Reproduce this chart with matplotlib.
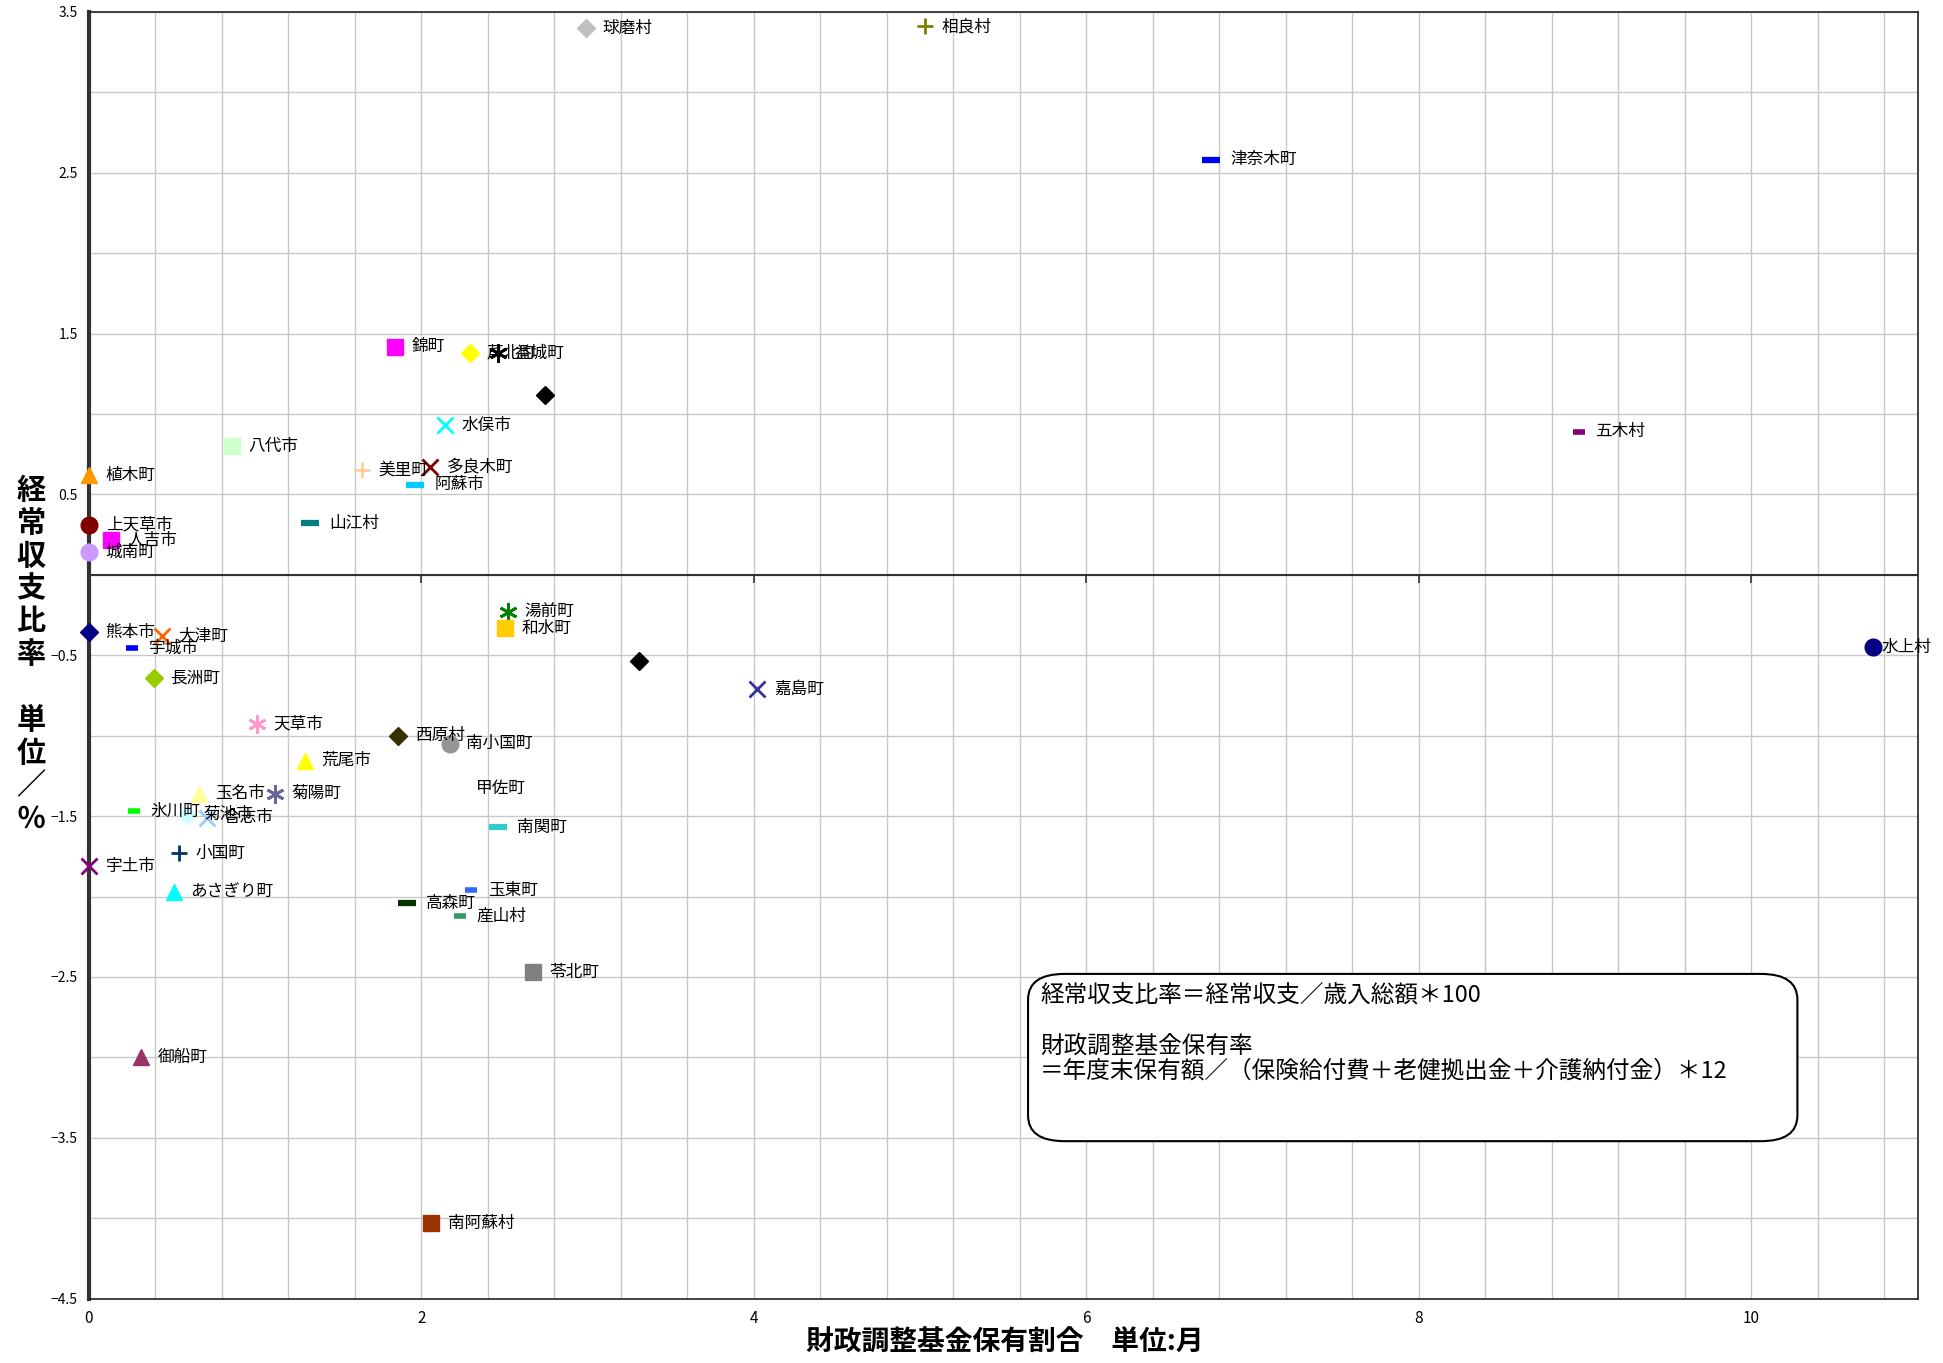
import matplotlib
matplotlib.use('Agg')
import matplotlib.pyplot as plt
from matplotlib.patches import FancyBboxPatch
import numpy as np

plt.rcParams['font.family'] = ['Noto Sans CJK JP', 'DejaVu Sans']

# municipality, fund ratio (months), balance ratio (%)
names = ['球磨村', '相良村', '津奈木町', '錦町', '芦北町', '益城町', '', '水俣市',
         '八代市', '植木町', '美里町', '多良木町', '阿蘇市', '五木村', '上天草市',
         '人吉市', '城南町', '山江村', '熊本市', '大津町', '宇城市', '長洲町',
         '湯前町', '和水町', '水上村', '', '嘉島町', '天草市', '西原村', '南小国町',
         '荒尾市', '玉名市', '菊陽町', '甲佐町', '氷川町', '菊池市', '合志市',
         '南関町', '小国町', '宇土市', 'あさぎり町', '玉東町', '高森町', '産山村',
         '苓北町', '御船町', '南阿蘇村']
fund = [2.99, 5.03, 6.75, 1.84, 2.29, 2.46, 2.74, 2.14,
        0.86, 0.00, 1.64, 2.05, 1.96, 8.96, 0.00,
        0.13, 0.00, 1.33, 0.00, 0.44, 0.26, 0.39,
        2.52, 2.50, 10.73, 3.31, 4.02, 1.01, 1.86, 2.17,
        1.30, 0.66, 1.12, 2.23, 0.27, 0.59, 0.71,
        2.46, 0.54, 0.00, 0.51, 2.30, 1.91, 2.23,
        2.67, 0.31, 2.06]
balance = [3.40, 3.41, 2.58, 1.42, 1.38, 1.38, 1.12, 0.93,
           0.80, 0.62, 0.65, 0.67, 0.56, 0.89, 0.31,
           0.22, 0.14, 0.32, -0.355, -0.38, -0.455, -0.64,
           -0.23, -0.33, -0.45, -0.535, -0.71, -0.925, -1.00, -1.05,
           -1.155, -1.36, -1.36, -1.33, -1.47, -1.49, -1.51,
           -1.57, -1.73, -1.81, -1.97, -1.96, -2.04, -2.12,
           -2.47, -3.00, -4.03]

# marker, colour per point
styles = [('D', '#C0C0C0'), ('+', '#808000'), ('dash', '#0000FF'), ('s', '#FF00FF'),
          ('D', '#FFFF00'), ('ast', '#000000'), ('D', '#000000'), ('x', '#00FFFF'),
          ('s', '#CCFFCC'), ('^', '#FF9900'), ('+', '#FFCC99'), ('x', '#800000'),
          ('dash', '#00CCFF'), ('sdash', '#800080'), ('o', '#800000'),
          ('s', '#FF00FF'), ('o', '#CC99FF'), ('dash', '#008080'), ('D', '#000080'),
          ('x', '#FF6600'), ('sdash', '#0000FF'), ('D', '#99CC00'),
          ('ast', '#008000'), ('s', '#FFCC00'), ('o', '#000080'), ('D', '#000000'),
          ('x', '#333399'), ('ast', '#FF99CC'), ('D', '#333300'), ('o', '#969696'),
          ('^', '#FFFF00'), ('^', '#FFFF99'), ('ast', '#666699'), ('o', '#FFFFFF'),
          ('sdash', '#00FF00'), ('D', '#CCFFFF'), ('x', '#99CCFF'),
          ('dash', '#33CCCC'), ('+', '#003366'), ('x', '#800080'), ('^', '#00FFFF'),
          ('sdash', '#3366FF'), ('dash', '#003300'), ('sdash', '#339966'),
          ('s', '#808080'), ('^', '#993366'), ('s', '#993300')]

note = ('経常収支比率＝経常収支／歳入総額＊100\n\n'
        '財政調整基金保有率\n'
        '＝年度末保有額／（保険給付費＋老健拠出金＋介護納付金）＊12')

fig = plt.figure(figsize=(19.43, 13.63), dpi=100)
ax = fig.add_axes([0.0458, 0.0472, 0.9412, 0.9440])
ax.set_xlim(0, 11)
ax.set_ylim(-4.5, 3.5)

ax.set_xticks(np.arange(0, 11, 2))
ax.set_xticks(np.arange(0, 11, 0.4), minor=True)
ax.set_yticks(np.arange(-4.5, 3.6, 1.0))
ax.set_yticks(np.arange(-4.5, 3.6, 0.5), minor=True)
ax.grid(True, which='both', color='#c8c8c8', lw=1.0)
ax.set_axisbelow(True)
ax.tick_params(which='both', length=0)
ax.tick_params(axis='x', labelsize=11, pad=8)
ax.tick_params(axis='y', labelsize=10, pad=8)
ax.set_yticklabels(['%.1f' % v if v >= 0 else '\u2212%.1f' % -v
                    for v in np.arange(-4.5, 3.6, 1.0)])

for s in ['top', 'right', 'bottom']:
    ax.spines[s].set_color('#222222')
    ax.spines[s].set_linewidth(1.2)
ax.spines['left'].set_color('#333333')
ax.spines['left'].set_linewidth(3)
ax.axhline(0, color='#333333', lw=1.5, zorder=2)
ax.vlines(np.arange(2, 11, 2), -0.05, 0, color='#333333', lw=1.2, zorder=2)

for n, x, y, (m, c) in zip(names, fund, balance, styles):
    off = 12
    kw = dict(color=c, zorder=4, clip_on=False)
    if m == 'dash':
        ax.plot(x, y, marker='_', ms=13, mew=4.5, **kw)
        off = 14
    elif m == 'sdash':
        ax.plot(x, y, marker='_', ms=8, mew=4, **kw)
    elif m == 'ast':
        ax.plot(x, y, marker=(6, 2, 0), ms=13, mew=2, **kw)
    elif m in ('x', '+'):
        ax.plot(x, y, marker=m, ms=12, mew=2, **kw)
    elif m == 'D':
        ax.plot(x, y, marker='D', ms=9, mec=c, **kw)
    elif m == 'o':
        ax.plot(x, y, marker='o', ms=12, mec=c, **kw)
        if x > 10:
            off = 6
    else:
        ax.plot(x, y, marker=m, ms=12, mec=c, **kw)
    if n:
        ax.annotate(n, (x, y), xytext=(off, 0), textcoords='offset points',
                    ha='left', va='center', fontsize=12, zorder=5)

box = FancyBboxPatch((0.5135, 0.1224), 0.4207, 0.13,
                     boxstyle='round,pad=0,rounding_size=0.02',
                     transform=ax.transAxes, facecolor='white',
                     edgecolor='black', lw=1.5, zorder=6)
ax.add_patch(box)
ax.text(0.520, 0.244, note, transform=ax.transAxes, ha='left', va='top',
        fontsize=17, linespacing=1.1, zorder=7)

fig.text(0.517, 0.015, '財政調整基金保有割合　単位:月', ha='center', va='center',
         fontsize=20, fontweight='bold')
fig.text(0.016, 0.52, '\n'.join('経常収支比率 単位／％'), ha='center', va='center',
         fontsize=21, fontweight='bold', linespacing=1.12)

fig.savefig('out.png', dpi=100)
